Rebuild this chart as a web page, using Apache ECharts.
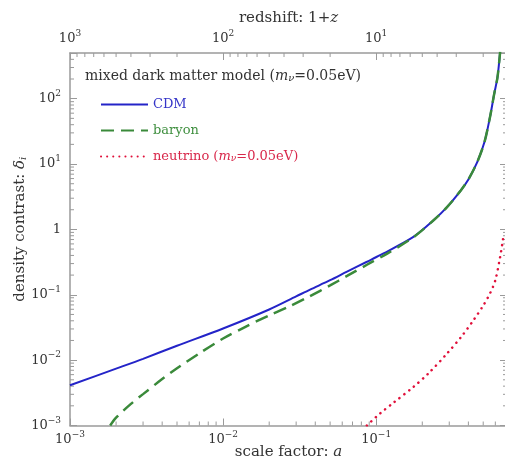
<!DOCTYPE html>
<html>
<head>
<meta charset="utf-8">
<title>mixed dark matter model</title>
<script src="https://cdn.jsdelivr.net/npm/echarts@6/dist/echarts.min.js"></script>
<style>
  html, body { margin: 0; padding: 0; background: #fff; }
  #chart { width: 505px; height: 459px; }
</style>
</head>
<body>
<div id="chart"></div>
<script>
  // values: scale factor a, density contrast delta
  const cdmA = [0.001, 0.002, 0.003, 0.005, 0.01, 0.02, 0.03, 0.037, 0.05, 0.0645, 0.087, 0.106,
    0.175, 0.237, 0.29, 0.354, 0.4, 0.457, 0.51, 0.556, 0.59, 0.618, 0.635, 0.645];
  const cdmDelta = [0.00412, 0.00741, 0.01047, 0.0166, 0.0305, 0.0596, 0.0944, 0.120, 0.167, 0.226, 0.320, 0.403,
    0.767, 1.38, 2.19, 3.85, 5.82, 10.7, 21.9, 55.0, 119, 204, 355, 525];

  const baryonA = [0.00183, 0.002, 0.0025, 0.003, 0.004, 0.005, 0.007, 0.01, 0.014, 0.02, 0.0276,
    0.037, 0.05, 0.0645, 0.087, 0.118, 0.175, 0.237, 0.29, 0.354, 0.4, 0.457, 0.51, 0.556, 0.59, 0.618, 0.635, 0.645];
  const baryonDelta = [0.001, 0.00132, 0.00214, 0.00302, 0.00513, 0.0075, 0.0127, 0.0214, 0.0324, 0.0484, 0.0676,
    0.0955, 0.139, 0.194, 0.288, 0.427, 0.759, 1.38, 2.19, 3.85, 5.82, 10.7, 21.9, 55.0, 119, 204, 355, 525];

  const nuA = [0.0869, 0.106, 0.13, 0.175, 0.22, 0.29, 0.36, 0.433, 0.5, 0.556, 0.6, 0.645, 0.673];
  const nuDelta = [0.001, 0.00153, 0.00224, 0.00389, 0.00631, 0.0126, 0.0229, 0.0412, 0.0684, 0.107, 0.167, 0.380, 0.708];

  const aMin = 0.001, aMax = 0.715;
  const deltaMin = 0.001, deltaMax = 500;
  const zMin = 1 / aMax, zMax = 1000; // top axis shows 1+z = 1/a

  const serif = 'DejaVu Serif';
  const ink = '#333';
  const axisGray = '#9a9a9a';

  // 2..9 times each power of ten, inside (lo, hi)
  function minorTicks(lo, hi) {
    const out = [];
    for (let k = Math.floor(Math.log10(lo)); k <= Math.ceil(Math.log10(hi)); k++) {
      for (let m = 2; m <= 9; m++) {
        const v = m * Math.pow(10, k);
        if (v > lo && v < hi) out.push(v);
      }
    }
    return out;
  }
  const aMinor = minorTicks(aMin, aMax);
  const zMinor = minorTicks(zMin, zMax);
  const deltaMinor = minorTicks(deltaMin, deltaMax);

  const zip = (xs, ys) => xs.map((x, i) => [x, ys[i]]);

  function powLabel(v) {
    const l = Math.log10(v);
    const e = Math.round(l);
    if (Math.abs(l - e) > 1e-6) return '';
    if (e === 0) return '{n|1}';
    return '{n|10}{s|' + (e < 0 ? '\u2212' + (-e) : e) + '}';
  }
  const labelRich = {
    n: { fontFamily: serif, fontSize: 13, color: ink, lineHeight: 19 },
    s: { fontFamily: serif, fontSize: 9, color: ink, verticalAlign: 'top', lineHeight: 9 }
  };

  const tickStyle = { stroke: axisGray, lineWidth: 1 };

  const chart = echarts.init(document.getElementById('chart'));
  const option = {
    animation: false,
    backgroundColor: '#fff',
    title: {
      text: 'mixed dark matter model ({i|m}{sub|ν}=0.05eV)',
      left: 80,
      top: 64,
      textStyle: {
        fontFamily: serif, fontSize: 14, fontWeight: 'normal', color: ink,
        rich: {
          i: { fontFamily: serif, fontSize: 14, fontStyle: 'italic', color: ink },
          sub: { fontFamily: serif, fontSize: 10, fontStyle: 'italic', color: ink, verticalAlign: 'bottom', lineHeight: 8 }
        }
      }
    },
    legend: {
      orient: 'vertical',
      left: 95,
      top: 93,
      itemWidth: 47,
      itemHeight: 14,
      itemGap: 13,
      selectedMode: false,
      itemStyle: { opacity: 0 },
      data: [
        { name: 'CDM', textStyle: { color: '#3535c8' } },
        { name: 'baryon', textStyle: { color: '#3f8f3f' } },
        { name: 'neutrino', textStyle: { color: '#d8274a' } }
      ],
      formatter: function (name) {
        return name === 'neutrino' ? 'neutrino ({i|m}{sub|ν}=0.05eV)' : name;
      },
      textStyle: {
        fontFamily: serif, fontSize: 13,
        rich: {
          i: { fontFamily: serif, fontSize: 13, fontStyle: 'italic' },
          sub: { fontFamily: serif, fontSize: 9, fontStyle: 'italic', verticalAlign: 'bottom', lineHeight: 8 }
        }
      }
    },
    grid: { left: 70, right: -2, top: 53, bottom: 33.5, containLabel: false, outerBoundsMode: 'none' },
    xAxis: [
      {
        type: 'log', min: aMin, max: aMax, logBase: 10,
        name: 'scale factor: {i|a}',
        nameLocation: 'middle', nameGap: 19, nameMoveOverlap: false,
        nameTextStyle: {
          fontFamily: serif, fontSize: 15, color: ink, lineHeight: 16,
          rich: { i: { fontFamily: serif, fontSize: 15, fontStyle: 'italic', color: ink, lineHeight: 16 } }
        },
        axisLine: { lineStyle: { color: axisGray, width: 1.5 } },
        axisTick: { inside: true, length: 7, lineStyle: { color: axisGray, width: 1 } },
        axisLabel: { formatter: powLabel, rich: labelRich, margin: 5 },
        splitLine: { show: false }
      },
      {
        type: 'log', min: zMin, max: zMax, logBase: 10, inverse: true, position: 'top',
        name: 'redshift: 1+{i|z}',
        nameLocation: 'middle', nameGap: 27, nameMoveOverlap: false,
        nameTextStyle: {
          fontFamily: serif, fontSize: 15, color: ink, lineHeight: 16,
          rich: { i: { fontFamily: serif, fontSize: 15, fontStyle: 'italic', color: ink, lineHeight: 16 } }
        },
        axisLine: { lineStyle: { color: axisGray, width: 1.5 } },
        axisTick: { inside: true, length: 7, lineStyle: { color: axisGray, width: 1 } },
        axisLabel: { formatter: powLabel, rich: labelRich, margin: 5 },
        splitLine: { show: false }
      }
    ],
    yAxis: [
      {
        type: 'log', min: deltaMin, max: deltaMax, logBase: 10,
        name: 'density contrast: {i|δ}{sub|i}',
        nameLocation: 'middle', nameGap: 42, nameMoveOverlap: false,
        nameTextStyle: {
          fontFamily: serif, fontSize: 15, color: ink, padding: [0, 0, 0, 20],
          rich: {
            i: { fontFamily: serif, fontSize: 15, fontStyle: 'italic', color: ink },
            sub: { fontFamily: serif, fontSize: 10, fontStyle: 'italic', color: ink, verticalAlign: 'bottom', lineHeight: 8 }
          }
        },
        axisLine: { lineStyle: { color: axisGray, width: 1.5 } },
        axisTick: { inside: true, length: 7, lineStyle: { color: axisGray, width: 1 } },
        axisLabel: { formatter: powLabel, rich: labelRich, margin: 9 },
        splitLine: { show: false }
      },
      {
        type: 'log', min: deltaMin, max: deltaMax, logBase: 10, position: 'right',
        axisLine: { show: true, lineStyle: { color: axisGray, width: 1.5 } },
        axisTick: { inside: true, length: 7, lineStyle: { color: axisGray, width: 1 } },
        axisLabel: { show: false },
        splitLine: { show: false }
      }
    ],
    series: [
      {
        name: 'CDM', type: 'line', smooth: 0.3, symbol: 'none',
        data: zip(cdmA, cdmDelta),
        lineStyle: { color: '#2424c8', width: 2 },
        itemStyle: { color: '#2424c8' }
      },
      {
        name: 'baryon', type: 'line', smooth: 0.3, symbol: 'none',
        data: zip(baryonA, baryonDelta),
        lineStyle: { color: '#3a8a3a', width: 2.5, type: [13, 7] },
        itemStyle: { color: '#3a8a3a' }
      },
      {
        name: 'neutrino', type: 'line', smooth: 0.3, symbol: 'none',
        data: zip(nuA, nuDelta),
        lineStyle: { color: '#e0103a', width: 2.5, type: [0.1, 6], cap: 'round' },
        itemStyle: { color: '#e0103a' }
      },
      {
        type: 'custom', silent: true, clip: false, z: 1,
        data: aMinor.map(v => [v, deltaMin]),
        renderItem: function (params, api) {
          const p = api.coord([api.value(0), deltaMin]);
          return { type: 'line', shape: { x1: p[0], y1: p[1], x2: p[0], y2: p[1] - 4 }, style: tickStyle };
        }
      },
      {
        type: 'custom', silent: true, clip: false, z: 1, xAxisIndex: 1,
        data: zMinor.map(v => [v, deltaMax]),
        renderItem: function (params, api) {
          const p = api.coord([api.value(0), deltaMax]);
          return { type: 'line', shape: { x1: p[0], y1: p[1], x2: p[0], y2: p[1] + 4 }, style: tickStyle };
        }
      },
      {
        type: 'custom', silent: true, clip: false, z: 1,
        data: deltaMinor.map(v => [aMin, v]),
        renderItem: function (params, api) {
          const l = api.coord([aMin, api.value(1)]);
          const r = api.coord([aMax, api.value(1)]);
          return {
            type: 'group',
            children: [
              { type: 'line', shape: { x1: l[0], y1: l[1], x2: l[0] + 4, y2: l[1] }, style: tickStyle },
              { type: 'line', shape: { x1: r[0], y1: r[1], x2: r[0] - 4, y2: r[1] }, style: tickStyle }
            ]
          };
        }
      }
    ]
  };
  chart.setOption(option);
</script>
</body>
</html>
